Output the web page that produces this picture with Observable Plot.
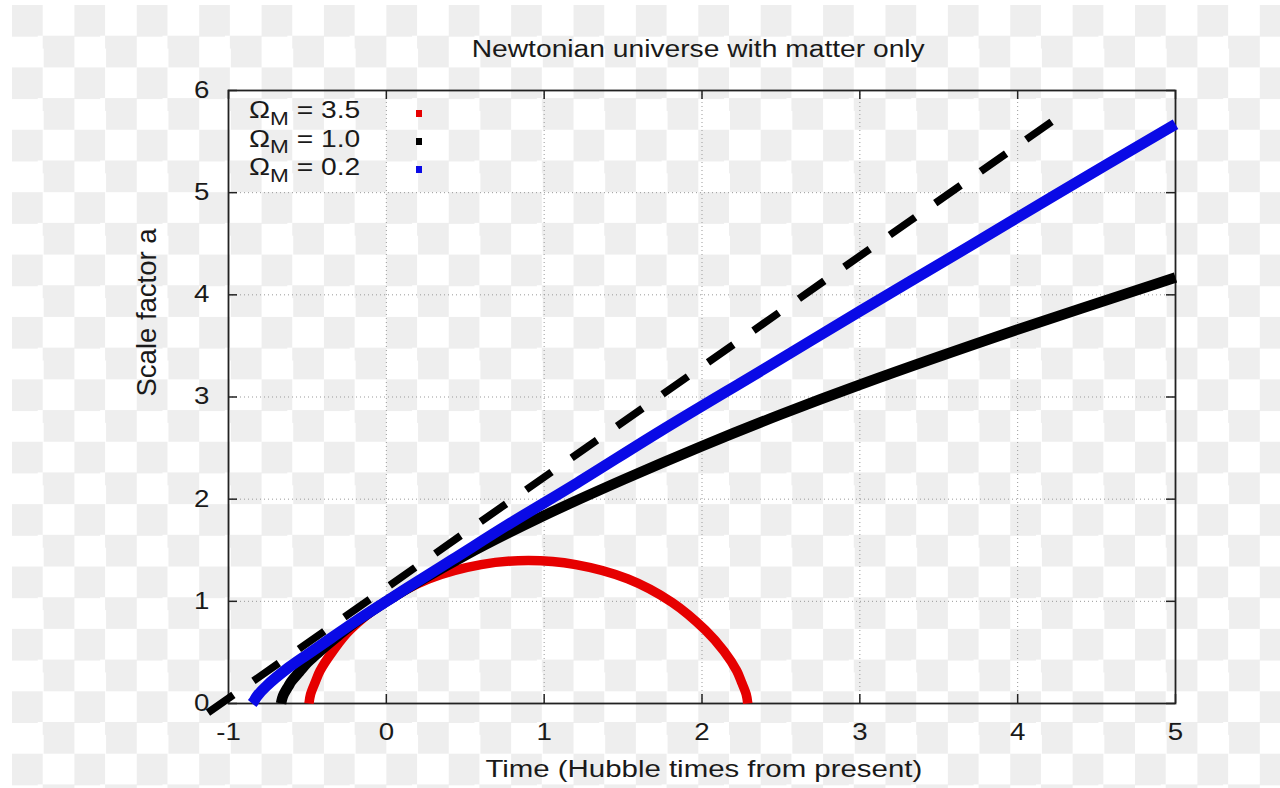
<!DOCTYPE html>
<html><head><meta charset="utf-8">
<script src="https://cdn.jsdelivr.net/npm/d3@7"></script>
<script src="https://cdn.jsdelivr.net/npm/@observablehq/plot@0.6"></script>
<style>
html,body{margin:0;padding:0;background:#fff;}
#wrap{position:relative;width:1280px;height:788px;overflow:hidden;background:#fff;font-family:"Liberation Sans",Arial,sans-serif;}
#checker{position:absolute;left:12px;top:5px;right:0;bottom:0;background:repeating-conic-gradient(#ffffff 0% 25%, #eeeeee 0% 50%);background-size:62.4px 62.4px;}
#chart{position:absolute;left:0;top:0;}
.key{position:absolute;left:249px;font-size:23.5px;line-height:28px;color:#1a1a1a;transform:scaleX(1.2);transform-origin:0 0;white-space:nowrap;}
.key .sub{position:relative;top:6.7px;font-size:0.8em;line-height:0;}
.swatch{position:absolute;left:416px;width:6px;height:7px;}
</style></head>
<body><div id="wrap"><div id="checker"></div><div id="chart"></div></div>
<script>
// ---- data ----
const xTicks = [-1, 0, 1, 2, 3, 4, 5];
const yTicks = [0, 1, 2, 3, 4, 5, 6];

const titleText = "Newtonian universe with matter only";
const xLabel = "Time (Hubble times from present)";
const yLabel = "Scale factor a";

const omegaValues = ["3.5", "1.0", "0.2"];
const seriesColors = ["#e60000", "#000000", "#0a0ae6"];

// Ω_M = 3.5 (closed)
const tRed = [-0.49, -0.48, -0.45, -0.42, -0.34, -0.23, -0.01, 0.27, 0.60, 0.90, 1.20, 1.53, 1.81, 2.02, 2.14, 2.22, 2.25, 2.28, 2.29];
const aRed = [0, 0.09, 0.21, 0.32, 0.51, 0.72, 0.99, 1.22, 1.36, 1.40, 1.36, 1.22, 0.99, 0.72, 0.51, 0.32, 0.21, 0.09, 0];

// Ω_M = 1.0 (flat)
const tBlack = [-0.667, -0.66, -0.65, -0.62, -0.60, -0.55, -0.50, -0.45, -0.40, -0.30, -0.20, 0, 0.5, 1, 1.5, 2, 2.5, 3, 4, 5];
const aBlack = [0, 0.05, 0.09, 0.17, 0.22, 0.31, 0.40, 0.47, 0.54, 0.67, 0.79, 1.00, 1.45, 1.84, 2.19, 2.52, 2.83, 3.12, 3.66, 4.17];

// Ω_M = 0.2 (open)
const tBlue = [-0.85, -0.84, -0.82, -0.76, -0.62, -0.50, -0.35, -0.19, 0, 0.13, 0.42, 0.77, 1.21, 1.74, 2.41, 3.00, 3.70, 4.23, 5.00];
const aBlue = [0, 0.02, 0.07, 0.17, 0.35, 0.48, 0.64, 0.81, 1.00, 1.13, 1.41, 1.75, 2.16, 2.67, 3.29, 3.84, 4.48, 4.97, 5.67];

// dashed straight line
const tDash = [-1.13, 4.22];
const aDash = [-0.09, 5.70];

// ---- build ----
const toRows = (t, a) => t.map((ti, i) => ({t: ti, a: a[i]}));
const red = toRows(tRed, aRed);
const black = toRows(tBlack, aBlack);
const blue = toRows(tBlue, aBlue);
const dash = toRows(tDash, aDash);

const axisColor = "#222";
const chart = Plot.plot({
  width: 1280, height: 788,
  marginLeft: 228, marginRight: 105, marginTop: 90, marginBottom: 85,
  style: {background: "transparent", fontFamily: '"Liberation Sans", Arial, sans-serif', color: "#1a1a1a", overflow: "visible"},
  x: {domain: [-1, 5]},
  y: {domain: [0, 6]},
  marks: [
    Plot.gridX(xTicks, {stroke: "#999", strokeOpacity: 1, strokeWidth: 1, strokeDasharray: "1,3"}),
    Plot.gridY(yTicks, {stroke: "#999", strokeOpacity: 1, strokeWidth: 1, strokeDasharray: "1,3"}),
    Plot.ruleX(xTicks, {insetTop: 604, stroke: axisColor, strokeWidth: 1.5}),
    Plot.ruleX(xTicks, {insetBottom: 604, stroke: axisColor, strokeWidth: 1.5}),
    Plot.ruleY(yTicks, {insetRight: 938, stroke: axisColor, strokeWidth: 1.5}),
    Plot.ruleY(yTicks, {insetLeft: 938, stroke: axisColor, strokeWidth: 1.5}),
    Plot.frame({stroke: axisColor, strokeWidth: 1.8}),
    Plot.axisX(xTicks, {tickSize: 0, tickPadding: 20, fontSize: 23, label: null, tickFormat: d => String(d)}),
    Plot.axisY(yTicks, {tickSize: 0, tickPadding: 19, fontSize: 23, label: null, tickFormat: d => String(d)}),
    Plot.line(red, {x: "t", y: "a", stroke: seriesColors[0], strokeWidth: 9.5, curve: "catmull-rom", strokeLinecap: "butt"}),
    Plot.line(black, {x: "t", y: "a", stroke: seriesColors[1], strokeWidth: 10.5, curve: "catmull-rom", strokeLinecap: "butt"}),
    Plot.line(blue, {x: "t", y: "a", stroke: seriesColors[2], strokeWidth: 11, curve: "catmull-rom", strokeLinecap: "butt"}),
    Plot.line(dash, {x: "t", y: "a", stroke: "#000", strokeWidth: 7.5, strokeDasharray: "31,24.5", strokeLinecap: "butt"}),
    Plot.text([titleText], {frameAnchor: "top", dy: -33.3, dx: -3.8, lineAnchor: "bottom", fontSize: 23.5}),
    Plot.text([xLabel], {frameAnchor: "bottom", dy: 73.7, dx: 1.8, lineAnchor: "bottom", fontSize: 24.5}),
    Plot.text([yLabel], {frameAnchor: "left", rotate: -90, dx: -73, dy: -0.5, lineAnchor: "bottom", fontSize: 27.5})
  ]
});
document.getElementById("chart").append(chart);

// stretch horizontal text glyphs like the reference
chart.querySelectorAll("text").forEach(el => {
  if (el.textContent === yLabel) return;
  const w = el.getComputedTextLength();
  if (w > 0) {
    el.setAttribute("textLength", (w * 1.2).toFixed(1));
    el.setAttribute("lengthAdjust", "spacingAndGlyphs");
  }
});

// legend
const wrap = document.getElementById("wrap");
const keyTop = 96.2, keyStep = 28.35;
omegaValues.forEach((v, i) => {
  const row = document.createElement("div");
  row.className = "key";
  row.style.top = (keyTop + i * keyStep) + "px";
  row.innerHTML = `Ω<span class="sub">M</span> = ${v}`;
  wrap.append(row);
  const sw = document.createElement("div");
  sw.className = "swatch";
  sw.style.top = (109.5 + i * keyStep) + "px";
  sw.style.background = seriesColors[i];
  wrap.append(sw);
});
</script></body></html>
